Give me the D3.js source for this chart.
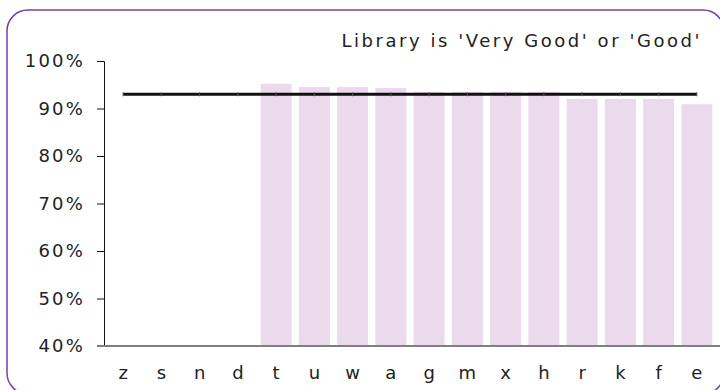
<!DOCTYPE html>
<html>
<head>
<meta charset="utf-8">
<script src="https://cdn.jsdelivr.net/npm/d3@7/dist/d3.min.js"></script>
<style>
  html, body { margin: 0; padding: 0; background: #ffffff; }
  svg { display: block; }
  text { font-family: "DejaVu Sans", Verdana, sans-serif; fill: #222; }
</style>
</head>
<body>
<svg id="chart" width="720" height="390"></svg>
<script>
// Share of respondents rating the library 'Very Good' or 'Good'
const categories = ["z", "s", "n", "d", "t", "u", "w", "a", "g", "m", "x", "h", "r", "k", "f", "e"];
const values = [null, null, null, null, 95.2, 94.5, 94.5, 94.3, 93.5, 93.5, 93.5, 93.5, 92.0, 92.0, 92.0, 90.9];
const benchmark = [93, 93, 93, 93, 93, 93, 93, 93, 93, 93, 93, 93, 93, 93, 93, 93];
const yTicks = [40, 50, 60, 70, 80, 90, 100];
const title = "Library is 'Very Good' or 'Good'";

const svg = d3.select("#chart");

// Rounded frame around the whole chart
svg.append("rect")
  .attr("x", 7).attr("y", 10)
  .attr("width", 717).attr("height", 384)
  .attr("rx", 21).attr("ry", 21)
  .attr("fill", "none")
  .attr("stroke", "#7a3fa3")
  .attr("stroke-width", 1.5);

const x = d3.scaleBand()
  .domain(categories)
  .range([104, 716])
  .paddingInner(0.19)
  .paddingOuter(0.095);

const y = d3.scaleLinear()
  .domain([40, 100])
  .range([346, 61]);

// Bars
svg.append("g")
  .selectAll("rect")
  .data(categories.map((c, i) => ({ c, v: values[i] })).filter(d => d.v != null))
  .join("rect")
  .attr("x", d => x(d.c))
  .attr("width", x.bandwidth())
  .attr("y", d => y(d.v))
  .attr("height", d => y(40) - y(d.v))
  .attr("fill", "#ebd9ec");

// Y axis
const yAxis = svg.append("g")
  .attr("transform", "translate(104,0)")
  .call(d3.axisLeft(y).tickValues(yTicks).tickFormat(d => d + "%").tickSize(7).tickPadding(12));
yAxis.select(".domain").attr("stroke", "#111").attr("stroke-width", 1);
yAxis.selectAll(".tick line").attr("stroke", "#111");
yAxis.selectAll(".tick text")
  .attr("font-size", 18)
  .attr("letter-spacing", "2.2px")
  .attr("fill", "#222");

// X axis
const xAxis = svg.append("g")
  .attr("transform", "translate(0,346)")
  .call(d3.axisBottom(x).tickSize(0).tickPadding(20));
xAxis.select(".domain").remove();
xAxis.selectAll(".tick text")
  .attr("font-size", 18)
  .attr("fill", "#222");
svg.append("line")
  .attr("x1", 97).attr("x2", 720)
  .attr("y1", 346).attr("y2", 346)
  .attr("stroke", "#7f7f7f")
  .attr("stroke-width", 2);

// Benchmark line
const line = d3.line()
  .x((d, i) => x(categories[i]) + x.bandwidth() / 2)
  .y(d => y(d));
svg.append("path")
  .datum(benchmark)
  .attr("d", line)
  .attr("fill", "none")
  .attr("stroke", "#111")
  .attr("stroke-width", 3);

// Small markers on the benchmark line
svg.append("g")
  .selectAll("line")
  .data(benchmark)
  .join("line")
  .attr("x1", (d, i) => x(categories[i]) + x.bandwidth() / 2)
  .attr("x2", (d, i) => x(categories[i]) + x.bandwidth() / 2)
  .attr("y1", d => y(d) - 2)
  .attr("y2", d => y(d) + 2)
  .attr("stroke", "#555")
  .attr("stroke-width", 1);

// Title
svg.append("text")
  .attr("x", 702).attr("y", 47)
  .attr("text-anchor", "end")
  .attr("font-size", 18)
  .attr("letter-spacing", "2.55px")
  .text(title);
</script>
</body>
</html>
